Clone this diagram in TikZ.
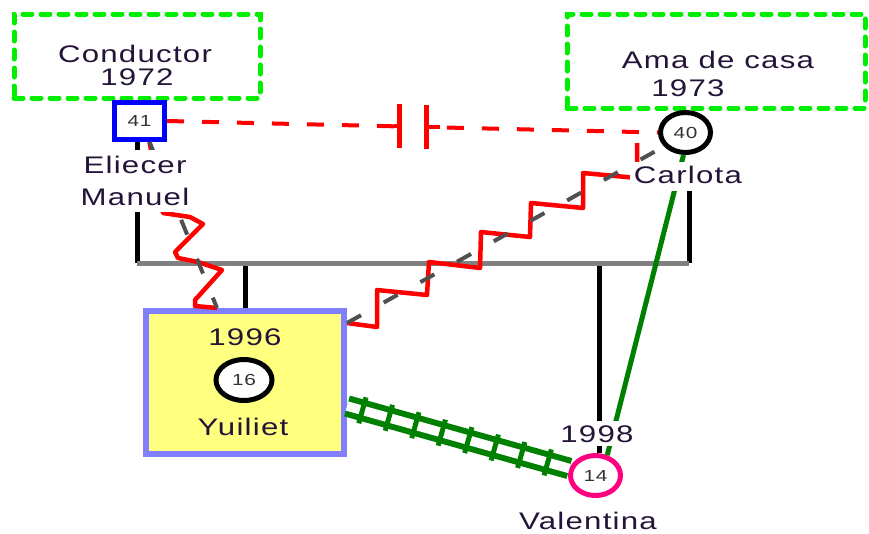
\documentclass[tikz,border=0pt]{standalone}
\usepackage{fontspec}
\setmainfont{Liberation Sans}[LetterSpace=4]
\usepackage{graphicx}
\usetikzlibrary{shapes.geometric,decorations.markings,calc}
\definecolor{gbright}{RGB}{0,238,0}
\definecolor{dkgreen}{RGB}{0,128,0}
\definecolor{pinkc}{RGB}{255,0,128}
\definecolor{boxblue}{RGB}{128,128,255}
\definecolor{boxyel}{RGB}{255,255,128}
\definecolor{txtc}{RGB}{36,20,56}
\definecolor{dgray}{RGB}{80,80,80}
\definecolor{sibgray}{RGB}{128,128,128}
\newcommand{\wide}[1]{\scalebox{1.3}[1]{#1}}
\begin{document}
\begin{tikzpicture}[x=1pt,y=-1pt,
  lbl/.style={font=\fontsize{24}{32}\selectfont, text=txtc, inner sep=0pt},
  num/.style={font=\fontsize{16}{18}\selectfont, text=black!80},
  occ/.style={draw=gbright, line width=5pt, dash pattern=on 9pt off 9pt, line cap=round, inner sep=0pt},
  kin/.style={draw=black, line width=5pt},
  sib/.style={draw=sibgray, line width=5pt},
  marr/.style={draw=red, line width=4pt, dash pattern=on 17pt off 18pt},
  hostile/.style={draw=red, line width=4.5pt, line join=round},
  distant/.style={draw=dgray, line width=4pt, dash pattern=on 16pt off 26pt},
  closeg/.style={draw=dkgreen, line width=5pt},
  ladder/.style={draw=dkgreen, line width=6pt, double=white, double distance=9.5pt},
  rungs/.style={decorate, decoration={markings,
     mark=between positions 16pt and -8pt step 27.5pt with {\draw[dkgreen, line width=5pt] (0,-13.5) -- (0,13.5);}}}
]
\useasboundingbox (0,0) rectangle (869,533);

% occupation boxes
\node[occ, minimum width=246pt, minimum height=84pt] (occ1) at (137,56) {};
\node[occ, minimum width=298pt, minimum height=94pt] (occ2) at (716,61) {};

% persons
\node[draw=blue, line width=5pt, fill=white, minimum width=50pt, minimum height=37pt, inner sep=0pt, num] (sq41) at (139.5,121) {\wide{41}};
\node[ellipse, draw=black, line width=5pt, fill=white, minimum width=50pt, minimum height=40pt, inner sep=0pt, num] (c40) at (685.5,132.5) {\wide{40}};
\node[draw=boxblue, fill=boxyel, line width=6pt, minimum width=198pt, minimum height=143pt] (yb) at (245,382.5) {};
\node[ellipse, draw=black, line width=5pt, fill=white, minimum width=56pt, minimum height=41pt, inner sep=0pt, num] (c16) at (244,380) {\wide{16}};
\node[ellipse, draw=pinkc, line width=5pt, fill=white, minimum width=50pt, minimum height=40pt, inner sep=0pt, num] (c14) at (595.5,475.5) {\wide{14}};

% coordinates
\coordinate (sibL) at (137,263);
\coordinate (sibR) at (689,263);
\coordinate (mtop) at ($(c40.south -| sibR)+(0,12)$);
\coordinate (zA) at ($(sq41.south)+(10,0)$);
\coordinate (zB) at ($(yb.north)+(-28,0)$);
\coordinate (zC) at ($(yb.north east)+(0,15)$);
\coordinate (ladA) at ($(yb.east)+(0,23.5)$);

% family lines
\draw[kin] (sq41.south -| sibL) -- (sibL);
\draw[kin] (mtop) -- (sibR);
\draw[kin] (yb.north) -- (yb.north |- sibL);
\draw[kin] (c14.80) -- (c14.80 |- sibL);
\draw[sib] (sibL) -- (sibR);

% close relation Carlota - Valentina
\draw[closeg] (c40.-95) -- (c14.60);

% marriage with divorce mark
\draw[marr] (sq41.east) -- (c40.west);
\path (sq41.east) -- (c40.west) coordinate[pos=0.4745] (dv1) coordinate[pos=0.5275] (dv2);
\draw[white, line width=7pt] (dv1) -- (dv2);
\draw[red, line width=4pt] ($(dv1)+(-6,0)$) -- (dv1);
\draw[red, line width=4pt] (dv2) -- ($(dv2)+(14,0)$);
\draw[red, line width=5pt] ($(dv1)+(0,-22)$) -- ($(dv1)+(0,22)$);
\draw[red, line width=5pt] ($(dv2)+(0,-22)$) -- ($(dv2)+(0,22)$);

% hostile / distant relations
\draw[hostile] (zA) -- (163,213) -- (190,217) -- (203,224) -- (175,252) -- (178,258) -- (198,262)
   -- (222,270) -- (195,300) -- (195,306) -- (zB);
\draw[distant] (zA) -- (zB);
\draw[hostile] (zC) -- (377,327) -- (377,290) -- (427,295) -- (429,262) -- (480,268) -- (481,232)
   -- (530,237) -- (531,203) -- (583,208) -- (583,173) -- (637,178) -- (637,143);
\draw[distant] (zC) -- (c40.213);

% fused relation Yuiliet - Valentina
\draw[ladder] (ladA) -- (c14.165);
\path[rungs] (ladA) -- (c14.165);

% labels
\node[lbl, anchor=base] (tc1) at (135,62) {\wide{Conductor}};
\node[lbl, anchor=base] (tc2) at (137,85) {\wide{1972}};
\node[lbl, anchor=base] (ta1) at (718,68) {\wide{Ama de casa}};
\node[lbl, anchor=base] (ta2) at (688,96) {\wide{1973}};
\node[lbl, fill=white, align=center, anchor=north, inner xsep=2pt, inner ysep=6pt] (nEM) at (135,150) {\wide{Eliecer}\\\wide{Manuel}};
\node[lbl, fill=white, anchor=base, inner sep=4pt, text depth=4pt] (nC) at (688,183) {\wide{Carlota}};
\node[lbl, anchor=base] (nY1) at (245,345) {\wide{1996}};
\node[lbl, anchor=base] (nY2) at (243,435) {\wide{Yuiliet}};
\node[lbl, fill=white, anchor=base, inner sep=4pt] (nV1) at (597,442) {\wide{1998}};
\node[lbl, anchor=base] (nV2) at (588,529) {\wide{Valentina}};
\end{tikzpicture}
\end{document}
